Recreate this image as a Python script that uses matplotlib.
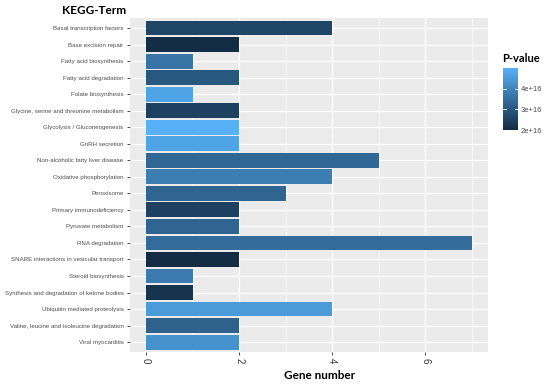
import numpy as np
import matplotlib
matplotlib.use("Agg")
import matplotlib.pyplot as plt
from matplotlib.colors import LinearSegmentedColormap, Normalize
from matplotlib.ticker import MultipleLocator

terms = ["Basal transcription factors", "Base excision repair", "Fatty acid biosynthesis",
         "Fatty acid degradation", "Folate biosynthesis", "Glycine, serine and threonine metabolism",
         "Glycolysis / Gluconeogenesis", "GnRH secretion", "Non-alcoholic fatty liver disease",
         "Oxidative phosphorylation", "Peroxisome", "Primary immunodeficiency",
         "Pyruvate metabolism", "RNA degradation", "SNARE interactions in vesicular transport",
         "Steroid biosynthesis", "Synthesis and degradation of ketone bodies",
         "Ubiquitin mediated proteolysis", "Valine, leucine and isoleucine degradation",
         "Viral myocarditis"]
gene_number = [4, 2, 1, 2, 1, 2, 2, 2, 5, 4, 3, 2, 2, 7, 2, 1, 1, 4, 2, 2]
# p-value, in units of 1e16 as printed on the legend
pvalue = [2.6, 2.05, 3.65, 3.0, 4.7, 2.5, 5.0, 4.7, 3.35, 3.85, 3.3, 2.5, 3.3, 3.45,
          2.0, 3.8, 2.2, 4.5, 3.2, 4.3]
cbar_ticks = [2, 3, 4]
cbar_labels = ["2e+16", "3e+16", "4e+16"]

cmap = LinearSegmentedColormap.from_list("gg", ["#132B43", "#56B1F7"])
norm = Normalize(vmin=min(pvalue), vmax=max(pvalue))

fig = plt.figure(figsize=(5.5, 3.86), dpi=100)
ax = fig.add_axes([0.236, 0.088, 0.651, 0.865])
ax.set_facecolor("#EBEBEB")

y = np.arange(len(terms))
ax.barh(y, gene_number, height=0.9, color=cmap(norm(pvalue)), zorder=3)
ax.set_ylim(len(terms) - 0.4, -0.6)
ax.set_xlim(-0.35, 7.35)
ax.set_yticks(y)
ax.set_yticklabels(terms, fontsize=4.4, color="#4D4D4D", family="Liberation Sans")
ax.xaxis.set_minor_locator(MultipleLocator(1))
ax.set_xticks([0, 2, 4, 6])
ax.set_xticklabels(["0", "2", "4", "6"], rotation=-90, fontsize=7, color="#333333",
                   family="Liberation Sans")
ax.grid(which="major", color="white", linewidth=0.9, zorder=0)
ax.grid(which="minor", axis="x", color="white", linewidth=0.45, zorder=0)
ax.tick_params(which="major", length=2.5, width=0.6, color="#333333", pad=2)
ax.tick_params(which="minor", length=0)
for s in ax.spines.values():
    s.set_visible(False)

ax.set_xlabel("Gene number", fontsize=8.5, fontweight="bold", family="Lato")
ax.xaxis.set_label_coords(0.53, -0.054)
fig.text(0.113, 0.958, "KEGG-Term", fontsize=8.5, fontweight="bold", family="Lato",
         va="bottom", ha="left")

cax = fig.add_axes([0.915, 0.663, 0.027, 0.16])
sm = plt.cm.ScalarMappable(norm=norm, cmap=cmap)
cb = fig.colorbar(sm, cax=cax)
cb.outline.set_visible(False)
cb.set_ticks(cbar_ticks)
cb.set_ticklabels(cbar_labels)
cax.tick_params(length=0, labelsize=5.5, labelcolor="#4D4D4D", pad=2)
for lab in cax.get_yticklabels():
    lab.set_family("Liberation Sans")
for t in cbar_ticks:
    cax.axhline(t, xmin=0, xmax=0.2, color="white", linewidth=0.6)
    cax.axhline(t, xmin=0.8, xmax=1, color="white", linewidth=0.6)
fig.text(0.913, 0.835, "P-value", fontsize=8, fontweight="bold", family="Lato",
         va="bottom", ha="left")

fig.savefig("out.png", dpi=100)
